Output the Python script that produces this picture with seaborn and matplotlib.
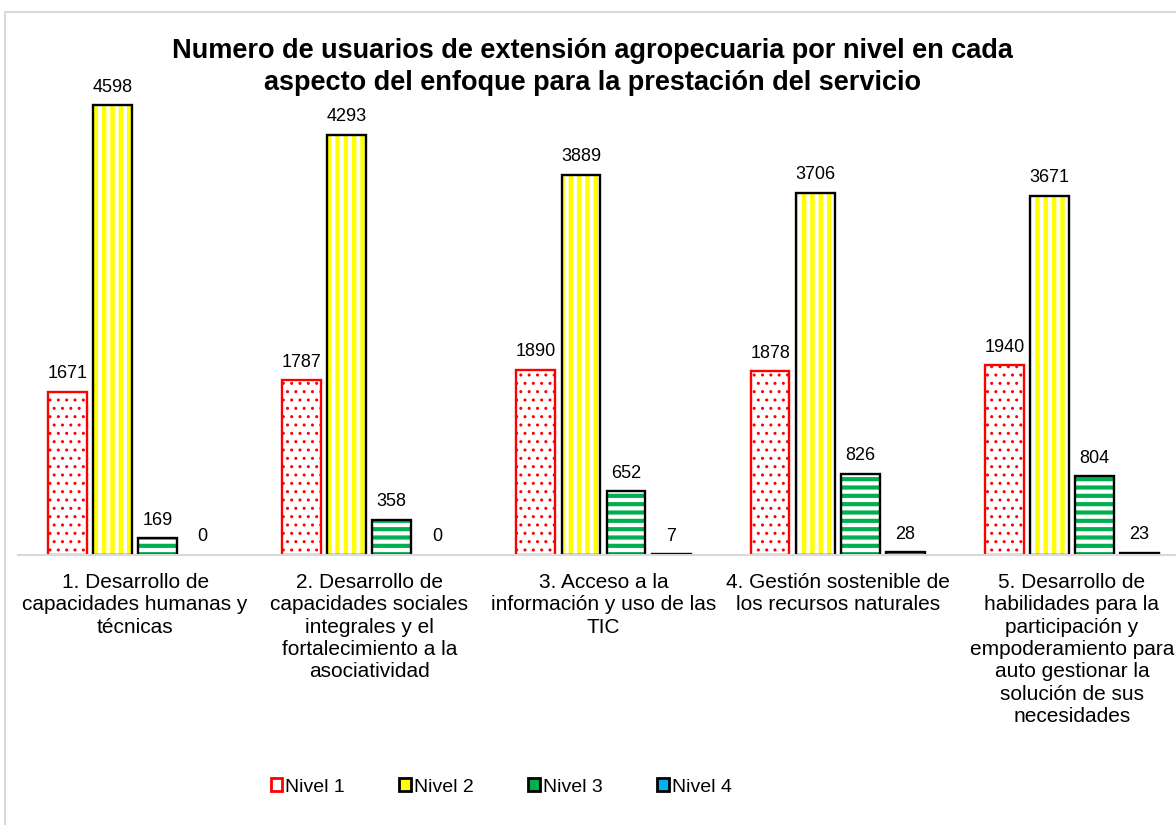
import matplotlib
matplotlib.use('Agg')
import pandas as pd
import matplotlib.pyplot as plt
import seaborn as sns
from matplotlib.patches import Patch, Rectangle

# Datos
aspectos = [
    '1. Desarrollo de\ncapacidades humanas y\ntécnicas',
    '2. Desarrollo de\ncapacidades sociales\nintegrales y el\nfortalecimiento a la\nasociatividad',
    '3. Acceso a la\ninformación y uso de las\nTIC',
    '4. Gestión sostenible de\nlos recursos naturales',
    '5. Desarrollo de\nhabilidades para la\nparticipación y\nempoderamiento para\nauto gestionar la\nsolución de sus\nnecesidades',
]
niveles = ['Nivel 1', 'Nivel 2', 'Nivel 3', 'Nivel 4']
nivel_1 = [1671, 1787, 1890, 1878, 1940]
nivel_2 = [4598, 4293, 3889, 3706, 3671]
nivel_3 = [169, 358, 652, 826, 804]
nivel_4 = [0, 0, 7, 28, 23]

df = pd.DataFrame({
    'aspecto': aspectos * 4,
    'nivel': [n for n in niveles for _ in aspectos],
    'usuarios': nivel_1 + nivel_2 + nivel_3 + nivel_4,
})

# estilo de cada nivel: relleno, color de trama, trama, grosor trama, borde
estilos = {
    'Nivel 1': dict(face='white', hcol='#FF0000', hatch='..', hlw=1.0, edge='#FF0000'),
    'Nivel 2': dict(face='white', hcol='#FFFF00', hatch='||', hlw=3.2, edge='black'),
    'Nivel 3': dict(face='white', hcol='#00B050', hatch='--', hlw=3.0, edge='black'),
    'Nivel 4': dict(face='#00B0F0', hcol='black', hatch='', hlw=1.0, edge='black'),
}

sns.set_theme(style='white')
plt.rcParams['font.family'] = ['Liberation Sans', 'DejaVu Sans']
plt.rcParams['text.color'] = 'black'
plt.rcParams['xtick.color'] = 'black'
plt.rcParams['hatch.linewidth'] = 3.0

fig = plt.figure(figsize=(11.76, 8.25), dpi=100)
ax = fig.add_axes([18 / 1176, 1 - 555 / 825, 1171 / 1176, 489 / 825])

sns.barplot(data=df, x='aspecto', y='usuarios', hue='nivel', hue_order=niveles,
            order=aspectos, width=0.77, gap=0.14, errorbar=None, ax=ax,
            palette=[estilos[n]['face'] for n in niveles])

for nivel, cont in zip(niveles, ax.containers):
    est = estilos[nivel]
    for bar in cont:
        bar.set_facecolor(est['face'])
        bar.set_edgecolor(est['hcol'])
        bar.set_linewidth(0)
        bar.set_hatch(est['hatch'])
        if hasattr(bar, 'set_hatch_linewidth'):
            bar.set_hatch_linewidth(est['hlw'])
        if bar.get_height() > 0:
            ax.add_patch(Rectangle(bar.get_xy(), bar.get_width(), bar.get_height(),
                                   fill=False, edgecolor=est['edge'], linewidth=1.7,
                                   zorder=bar.get_zorder() + 0.1))
    ax.bar_label(cont, padding=7, fontsize=13, color='black')

ax.set_ylim(0, 5000)
ax.set_xlabel('')
ax.set_ylabel('')
ax.set_yticks([])
sns.despine(ax=ax, left=True)
ax.spines['bottom'].set_color('#D9D9D9')
ax.spines['bottom'].set_linewidth(1.5)
ax.tick_params(axis='x', length=0, pad=13, labelsize=15)
for lab in ax.get_xticklabels():
    lab.set_linespacing(1.22)

ax.legend_.remove()

fig.text(592 / 1176, 1 - 67 / 825,
         'Numero de usuarios de extensión agropecuaria por nivel en cada\n'
         'aspecto del enfoque para la prestación del servicio',
         ha='center', va='center', fontsize=19.5, fontweight='bold', linespacing=1.35)

leyenda_color = {'Nivel 1': 'white', 'Nivel 2': '#FFFF00', 'Nivel 3': '#00B050', 'Nivel 4': '#00B0F0'}
handles = [Patch(facecolor=leyenda_color[n], edgecolor=estilos[n]['edge'], linewidth=2)
           for n in niveles]
fig.legend(handles, niveles, loc='center', bbox_to_anchor=(501 / 1176, 1 - 787 / 825),
           ncol=4, frameon=False, fontsize=14, handlelength=0.6, handleheight=0.6,
           handletextpad=0.15, columnspacing=2.8)

# borde del area del grafico
fig.patches.append(Rectangle((5 / 1176, -0.1), 2, 1.1 - 12 / 825, transform=fig.transFigure,
                             fill=False, edgecolor='#D9D9D9', linewidth=1.5))

fig.savefig('out.png', dpi=100)
